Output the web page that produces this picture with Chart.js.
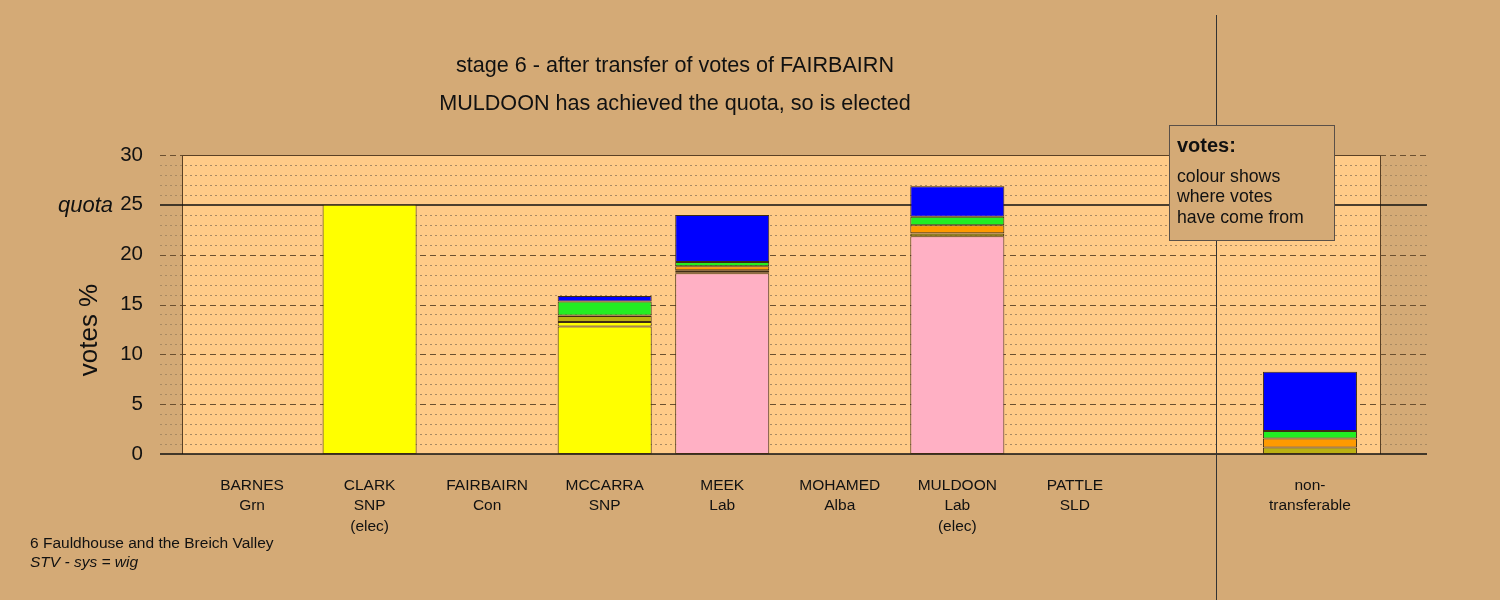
<!DOCTYPE html>
<html>
<head>
<meta charset="utf-8">
<script src="https://cdn.jsdelivr.net/npm/chart.js@4.4.1/dist/chart.umd.min.js"></script>
<style>
  html, body { margin: 0; padding: 0; background: #d4aa76; }
</style>
</head>
<body>
<canvas id="chart" width="1500" height="600"></canvas>
<script>
// Candidates (slot 8 is a gap before non-transferable)
const names   = ['BARNES', 'CLARK', 'FAIRBAIRN', 'MCCARRA', 'MEEK', 'MOHAMED', 'MULDOON', 'PATTLE', '', 'non-'];
const parties = ['Grn', 'SNP', 'Con', 'SNP', 'Lab', 'Alba', 'Lab', 'SLD', '', 'transferable'];
const status  = ['', '(elec)', '', '', '', '', '(elec)', '', '', ''];

// votes % by where they came from
const firstPrefs    = [0, 25.0, 0, 12.8, 18.13, 0, 21.85, 0, null, 0];
const fromClark     = [0, 0, 0, 0.45, 0.1, 0, 0.25, 0, null, 0];
const fromMohamed   = [0, 0, 0, 0.6, 0.2, 0, 0.05, 0, null, 0.65];
const fromPattle    = [0, 0, 0, 0.05, 0.4, 0, 0.8, 0, null, 0.9];
const fromBarnes    = [0, 0, 0, 1.4, 0.43, 0, 0.85, 0, null, 0.75];
const fromFairbairn = [0, 0, 0, 0.55, 4.72, 0, 3.07, 0, null, 5.95];

const partyColours = { Grn: '#22ee22', SNP: '#ffff00', Con: '#0000ff', Lab: '#ffb0c4', Alba: '#bbb011', SLD: '#ff9a00', '': '#888', transferable: '#888' };

const QUOTA = 25;
const yTicks = [0, 5, 10, 15, 20, 25, 30];

const FONT = '"Liberation Sans", Arial, sans-serif';
const BG = '#d4aa76';
const PLOT_BG = '#ffcb88';

const toPoints = arr => arr.map((v, i) => ({ x: i, y: v })).filter(p => p.y !== null);

const backdrop = {
  id: 'backdrop',
  beforeDraw(chart) {
    const { ctx, chartArea: a, scales: { y } } = chart;
    ctx.save();
    ctx.fillStyle = BG;
    ctx.fillRect(0, 0, chart.width, chart.height);
    ctx.fillStyle = PLOT_BG;
    ctx.fillRect(a.left, a.top, a.right - a.left, a.bottom - a.top);

    const x0 = a.left - 22, x1 = a.right + 47;
    ctx.lineWidth = 1;
    for (let v = 0; v <= 30; v++) {
      if (v === 0 || v === QUOTA) continue;
      const py = Math.round(y.getPixelForValue(v)) + 0.5;
      ctx.beginPath();
      if (v % 5 === 0) { ctx.setLineDash([6, 4]); ctx.strokeStyle = '#6b5030'; }
      else { ctx.setLineDash([2, 3]); ctx.strokeStyle = '#a98a62'; }
      ctx.moveTo(x0, py); ctx.lineTo(x1, py); ctx.stroke();
    }
    ctx.setLineDash([]);

    // box border
    ctx.strokeStyle = '#5a4024';
    ctx.beginPath();
    ctx.moveTo(Math.round(a.left) + 0.5, a.bottom); ctx.lineTo(Math.round(a.left) + 0.5, a.top + 0.5);
    ctx.lineTo(Math.round(a.right) + 0.5, a.top + 0.5); ctx.lineTo(Math.round(a.right) + 0.5, a.bottom);
    ctx.stroke();

    // quota and zero lines
    ctx.strokeStyle = '#111';
    ctx.lineWidth = 1.5;
    [0, QUOTA].forEach(v => {
      const py = Math.round(y.getPixelForValue(v));
      ctx.beginPath(); ctx.moveTo(x0, py); ctx.lineTo(x1, py); ctx.stroke();
    });
    ctx.restore();
  },
  afterDraw(chart) {
    const { ctx, scales: { x, y } } = chart;
    ctx.save();

    // divider before non-transferable
    const dx = Math.round(x.getPixelForValue(8.2)) + 0.5;
    ctx.strokeStyle = '#333';
    ctx.lineWidth = 1;
    ctx.beginPath(); ctx.moveTo(dx, 15); ctx.lineTo(dx, 600); ctx.stroke();

    // legend box
    ctx.fillStyle = BG;
    ctx.fillRect(1169, 125, 165, 115);
    ctx.strokeStyle = '#5a5048';
    ctx.strokeRect(1169.5, 125.5, 165, 115);
    ctx.fillStyle = '#111';
    ctx.textAlign = 'left';
    ctx.textBaseline = 'middle';
    ctx.font = 'bold 20px ' + FONT;
    ctx.fillText('votes:', 1177, 146);
    ctx.font = '17.7px ' + FONT;
    ctx.fillText('colour shows', 1177, 177);
    ctx.fillText('where votes', 1177, 197);
    ctx.fillText('have come from', 1177, 218);

    // titles
    ctx.textAlign = 'center';
    ctx.font = '21.6px ' + FONT;
    ctx.fillText('stage 6 - after transfer of votes of FAIRBAIRN', 675, 66);
    ctx.fillText('MULDOON has achieved the quota, so is elected', 675, 104);

    // quota label
    ctx.textAlign = 'right';
    ctx.font = 'italic 22px ' + FONT;
    ctx.fillText('quota', 113, y.getPixelForValue(QUOTA) + 1);

    // y title
    ctx.save();
    ctx.translate(90, 330);
    ctx.rotate(-Math.PI / 2);
    ctx.textAlign = 'center';
    ctx.font = '26px ' + FONT;
    ctx.fillText('votes %', 0, 0);
    ctx.restore();

    // footnote
    ctx.textAlign = 'left';
    ctx.font = '15.5px ' + FONT;
    ctx.fillText('6 Fauldhouse and the Breich Valley', 30, 544);
    ctx.font = 'italic 15.5px ' + FONT;
    ctx.fillText('STV - sys = wig', 30, 563);
    ctx.restore();
  }
};

const barBorder = '#3e2c14';
const makeSet = (label, arr, colour) => ({
  label,
  data: toPoints(arr),
  backgroundColor: colour,
  borderColor: barBorder,
  borderWidth: 1,
  borderSkipped: false
});

const ctx = document.getElementById('chart').getContext('2d');
new Chart(ctx, {
  type: 'bar',
  data: {
    datasets: [
      makeSet('first preferences', firstPrefs, parties.map(p => partyColours[p])),
      makeSet('from CLARK', fromClark, partyColours.SNP),
      makeSet('from MOHAMED', fromMohamed, partyColours.Alba),
      makeSet('from PATTLE', fromPattle, partyColours.SLD),
      makeSet('from BARNES', fromBarnes, partyColours.Grn),
      makeSet('from FAIRBAIRN', fromFairbairn, partyColours.Con)
    ]
  },
  options: {
    responsive: false,
    animation: false,
    layout: { padding: { top: 155, right: 120, bottom: 0, left: 0 } },
    datasets: { bar: { categoryPercentage: 0.8, barPercentage: 1.0 } },
    plugins: { legend: { display: false }, tooltip: { enabled: false }, title: { display: false } },
    scales: {
      x: {
        type: 'linear',
        offset: false,
        stacked: true,
        min: -0.596,
        max: 9.596,
        grid: { display: false, drawTicks: false },
        border: { display: false },
        afterFit: s => { s.height = 146; },
        ticks: {
          stepSize: 1,
          includeBounds: false,
          autoSkip: false,
          maxRotation: 0,
          padding: 21,
          color: '#111',
          font: { family: FONT, size: 15.5, lineHeight: 1.33 },
          callback: v => {
            const i = Math.round(v);
            if (!names[i]) return '';
            return [names[i], parties[i], status[i]].filter(s => s !== '');
          }
        }
      },
      y: {
        stacked: true,
        min: 0,
        max: 30,
        grid: { display: false, drawTicks: false },
        border: { display: false },
        afterFit: s => { s.width = 182; },
        afterBuildTicks: s => { s.ticks = yTicks.map(v => ({ value: v })); },
        ticks: {
          padding: 39,
          color: '#111',
          font: { family: FONT, size: 20.5 }
        }
      }
    }
  },
  plugins: [backdrop]
});
</script>
</body>
</html>
